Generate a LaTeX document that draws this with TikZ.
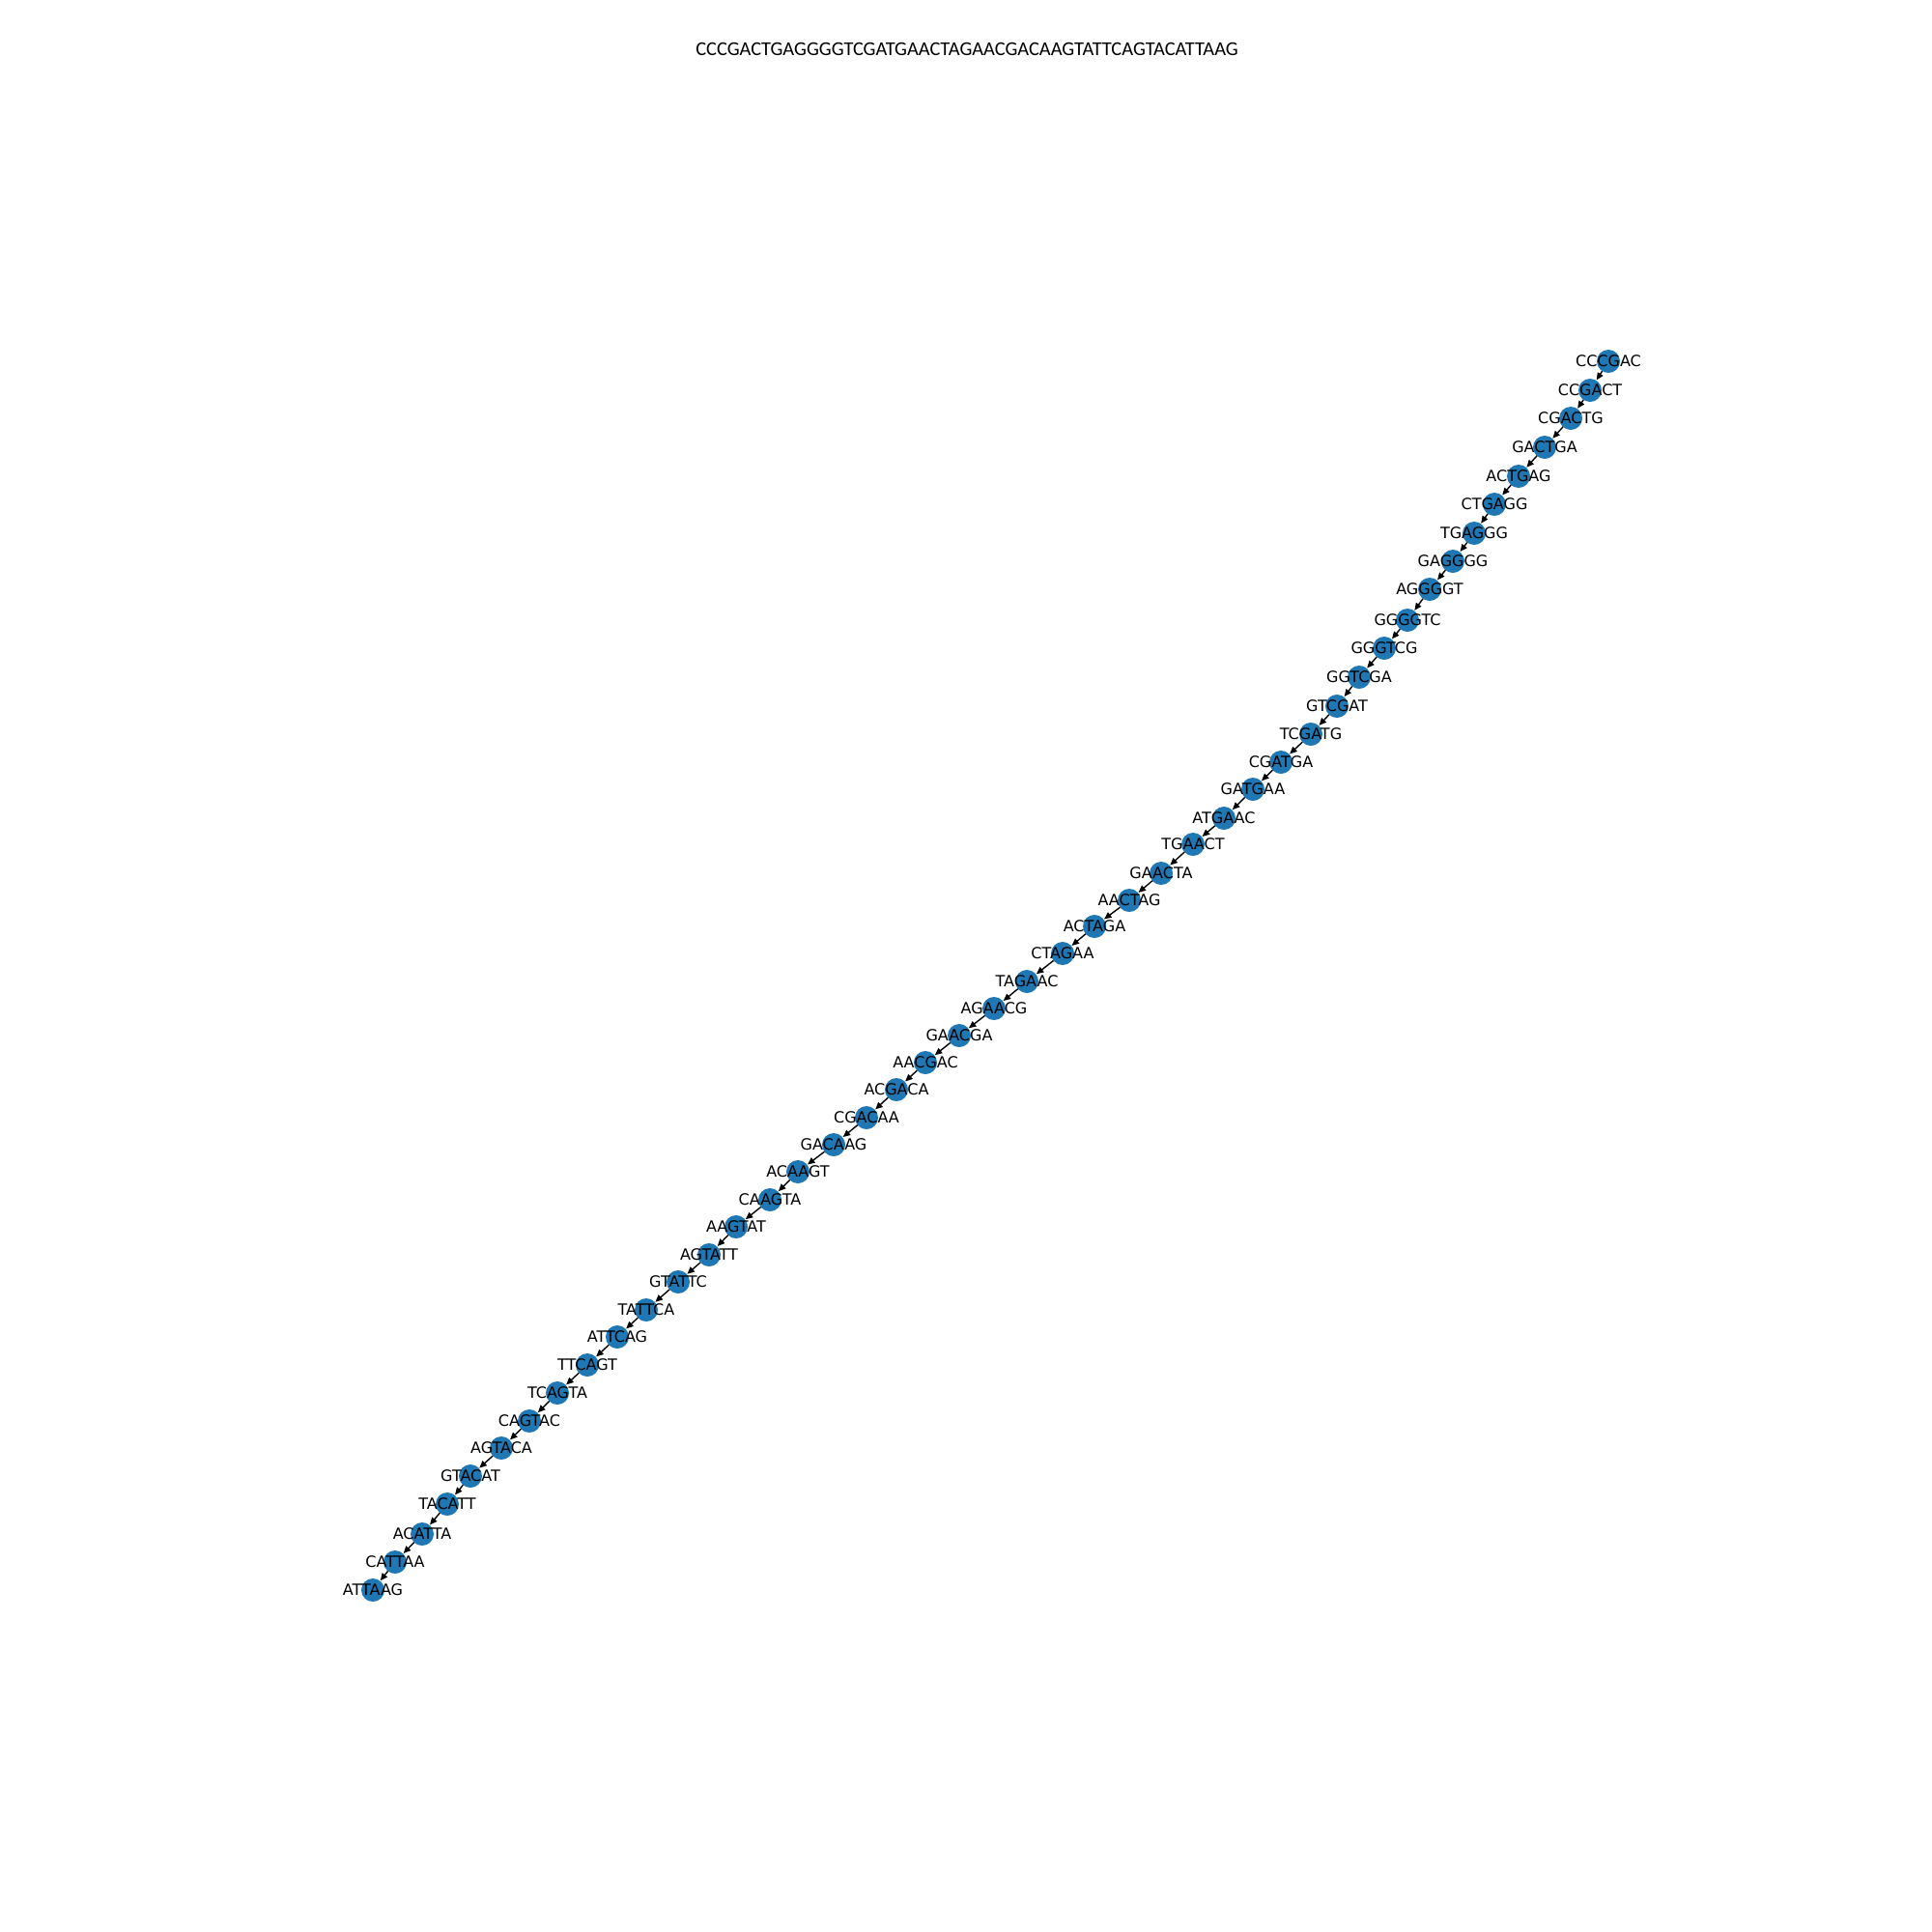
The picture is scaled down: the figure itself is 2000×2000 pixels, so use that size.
\documentclass[tikz,border=0pt]{standalone}
\usepackage{fontspec}
\usetikzlibrary{arrows.meta}
\newfontfamily\labfont{DejaVu Sans}
\newfontfamily\titlefont{Carlito}
\definecolor{tabblue}{HTML}{1F77B4}
\begin{document}
\begin{tikzpicture}[x=1pt,y=-1pt,
  dot/.style={circle,fill=tabblue,draw=none,minimum size=24pt,inner sep=0pt,outer sep=0pt},
  lab/.style={inner sep=0pt,font=\labfont\fontsize{16}{18}\selectfont,text=black},
  edge/.style={line width=1.4pt,black,-{Triangle[length=7.5pt,width=6.5pt]},shorten >=0.5pt},
  ttl/.style={inner sep=0pt,font=\titlefont\fontsize{20.4}{24}\selectfont}]
\useasboundingbox (0,0) rectangle (2000,2000);
\node[ttl] (title) at (1001,51) {CCCGACTGAGGGGTCGATGAACTAGAACGACAAGTATTCAGTACATTAAG};
\foreach \i/\x/\y in {
 1/1665/374, 2/1646/404, 3/1626/433, 4/1599/463,
 5/1572/493, 6/1547/522, 7/1526/552, 8/1504/581,
 9/1480/610, 10/1457/642, 11/1433/671, 12/1407/701,
 13/1384/731, 14/1357/760, 15/1326/789, 16/1297/817,
 17/1267/847, 18/1235/874, 19/1202/904, 20/1169/932,
 21/1133/959, 22/1100/987, 23/1063/1016, 24/1029/1044,
 25/993/1072, 26/958/1100, 27/928/1128, 28/897/1157,
 29/863/1185, 30/826/1213, 31/797/1242, 32/762/1270,
 33/734/1299, 34/702/1327, 35/669/1356, 36/639/1384,
 37/608/1413, 38/577/1442, 39/548/1471, 40/519/1499,
 41/487/1528, 42/463/1557, 43/437/1588, 44/409/1617,
 45/386/1646}
 { \node[dot] (n\i) at (\x,\y) {}; }
\foreach \i [evaluate=\i as \j using int(\i+1)] in {1,...,44}
 { \draw[edge] (n\i) -- (n\j); }
\foreach \i/\t in {
 1/CCCGAC, 2/CCGACT, 3/CGACTG, 4/GACTGA, 5/ACTGAG, 6/CTGAGG, 7/TGAGGG, 8/GAGGGG,
 9/AGGGGT, 10/GGGGTC, 11/GGGTCG, 12/GGTCGA, 13/GTCGAT, 14/TCGATG, 15/CGATGA,
 16/GATGAA, 17/ATGAAC, 18/TGAACT, 19/GAACTA, 20/AACTAG, 21/ACTAGA, 22/CTAGAA,
 23/TAGAAC, 24/AGAACG, 25/GAACGA, 26/AACGAC, 27/ACGACA, 28/CGACAA, 29/GACAAG,
 30/ACAAGT, 31/CAAGTA, 32/AAGTAT, 33/AGTATT, 34/GTATTC, 35/TATTCA, 36/ATTCAG,
 37/TTCAGT, 38/TCAGTA, 39/CAGTAC, 40/AGTACA, 41/GTACAT, 42/TACATT, 43/ACATTA,
 44/CATTAA, 45/ATTAAG}
 { \node[lab] (l\i) at (n\i) {\t}; }
\end{tikzpicture}
\end{document}
